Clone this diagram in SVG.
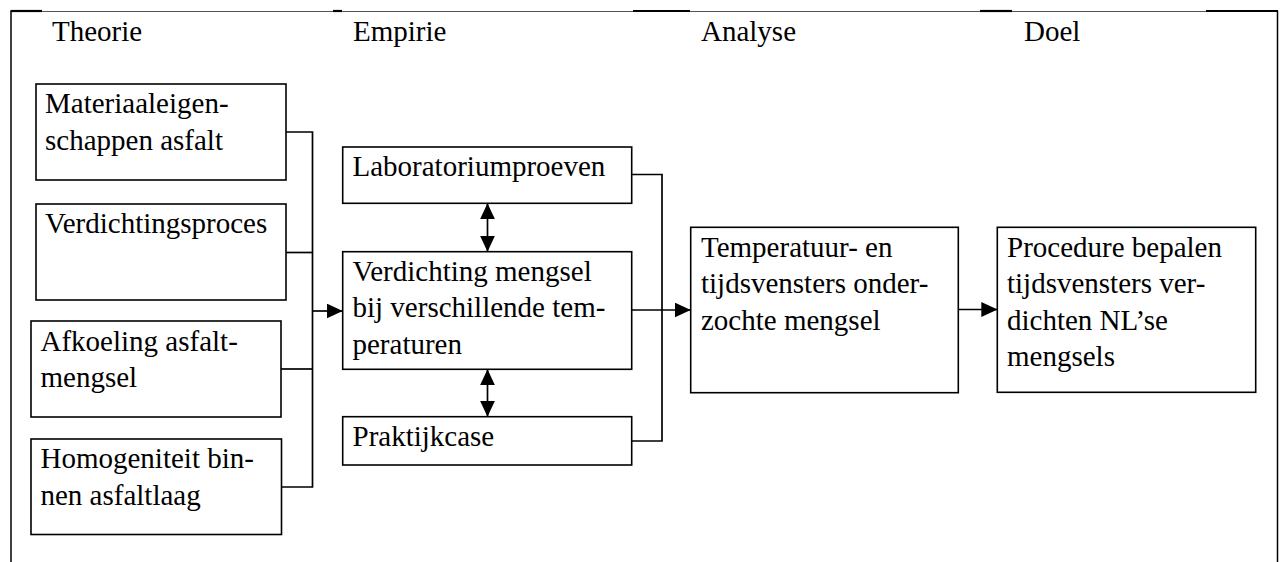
<svg xmlns="http://www.w3.org/2000/svg" width="1282" height="562" viewBox="0 0 1282 562">
<defs>
  <marker id="ah" viewBox="0 0 16 15" refX="16" refY="7.5" markerWidth="16" markerHeight="15" markerUnits="userSpaceOnUse" orient="auto-start-reverse">
    <path d="M0,0 L16,7.5 L0,15 Z" fill="#000"/>
  </marker>
</defs>
<rect width="1282" height="562" fill="#fff"/>

<g id="frame" fill="none" stroke="#000">
  <line stroke="#555" stroke-width="1" x1="11" y1="11.5" x2="1278" y2="11.5"/>
  <line stroke-width="1.5" x1="11" y1="11" x2="11" y2="562"/>
  <line stroke-width="1.5" x1="1277.5" y1="11" x2="1277.5" y2="562"/>
  <g stroke-width="2.2">
    <line x1="10.5" y1="11" x2="42" y2="11"/>
    <line x1="333" y1="11" x2="342" y2="11"/>
    <line x1="633" y1="11" x2="690" y2="11"/>
    <line x1="980" y1="11" x2="1012" y2="11"/>
    <line x1="1206" y1="11" x2="1278" y2="11"/>
  </g>
</g>

<g id="connectors" fill="none" stroke="#000" stroke-width="1.7">
  <polyline points="286,132 312.5,132 312.5,487 281,487"/>
  <line x1="286" y1="252.5" x2="312.5" y2="252.5"/>
  <line x1="281" y1="369" x2="312.5" y2="369"/>
  <line x1="312.5" y1="311" x2="342.7" y2="311" marker-end="url(#ah)"/>
  <line x1="487.5" y1="203.3" x2="487.5" y2="251.7" marker-start="url(#ah)" marker-end="url(#ah)"/>
  <line x1="487.5" y1="369.3" x2="487.5" y2="416.7" marker-start="url(#ah)" marker-end="url(#ah)"/>
  <polyline points="631.7,174.5 662,174.5 662,441 631.7,441"/>
  <line x1="631.7" y1="310" x2="690.7" y2="310" marker-end="url(#ah)"/>
  <line x1="958.3" y1="309.5" x2="997.3" y2="309.5" marker-end="url(#ah)"/>
</g>

<g font-family="Liberation Serif" font-size="29" fill="#000">
<g id="headers">
  <text x="52" y="41">Theorie</text>
  <text x="353" y="41">Empirie</text>
  <text x="701" y="41">Analyse</text>
  <text x="1024" y="41">Doel</text>
</g>

<g id="materiaaleigenschappen">
  <rect fill="#fff" stroke="#000" stroke-width="1.6" x="36" y="84" width="250" height="96"/>
  <text x="45" y="113">Materiaaleigen-</text>
  <text x="45" y="149.5">schappen asfalt</text>
</g>
<g id="verdichtingsproces">
  <rect fill="#fff" stroke="#000" stroke-width="1.6" x="36" y="204" width="250" height="96"/>
  <text x="45" y="233">Verdichtingsproces</text>
</g>
<g id="afkoeling">
  <rect fill="#fff" stroke="#000" stroke-width="1.6" x="31" y="321" width="250" height="96"/>
  <text x="40.5" y="350.5">Afkoeling asfalt-</text>
  <text x="40.5" y="387">mengsel</text>
</g>
<g id="homogeniteit">
  <rect fill="#fff" stroke="#000" stroke-width="1.6" x="31" y="439" width="250.5" height="95.5"/>
  <text x="40.5" y="468">Homogeniteit bin-</text>
  <text x="40.5" y="504.5">nen asfaltlaag</text>
</g>

<g id="laboratoriumproeven">
  <rect fill="#fff" stroke="#000" stroke-width="1.6" x="342.7" y="147" width="289" height="56.3"/>
  <text x="352.5" y="176">Laboratoriumproeven</text>
</g>
<g id="verdichting-mengsel">
  <rect fill="#fff" stroke="#000" stroke-width="1.6" x="342.7" y="251.7" width="289" height="117.6"/>
  <text x="352.5" y="280.5">Verdichting mengsel</text>
  <text x="352.5" y="317">bij verschillende tem-</text>
  <text x="352.5" y="353.5">peraturen</text>
</g>
<g id="praktijkcase">
  <rect fill="#fff" stroke="#000" stroke-width="1.6" x="342.7" y="416.7" width="289" height="48.3"/>
  <text x="352.5" y="445.5">Praktijkcase</text>
</g>

<g id="analyse">
  <rect fill="#fff" stroke="#000" stroke-width="1.6" x="690.7" y="227.3" width="267.6" height="165.4"/>
  <text x="701" y="256.5">Temperatuur- en</text>
  <text x="701" y="293">tijdsvensters onder-</text>
  <text x="701" y="329.5">zochte mengsel</text>
</g>

<g id="doel">
  <rect fill="#fff" stroke="#000" stroke-width="1.6" x="997.3" y="227.3" width="258.4" height="165"/>
  <text x="1007" y="256.5">Procedure bepalen</text>
  <text x="1007" y="293">tijdsvensters ver-</text>
  <text x="1007" y="329.5">dichten NL&#8217;se</text>
  <text x="1007" y="366">mengsels</text>
</g>
</g>
</svg>
